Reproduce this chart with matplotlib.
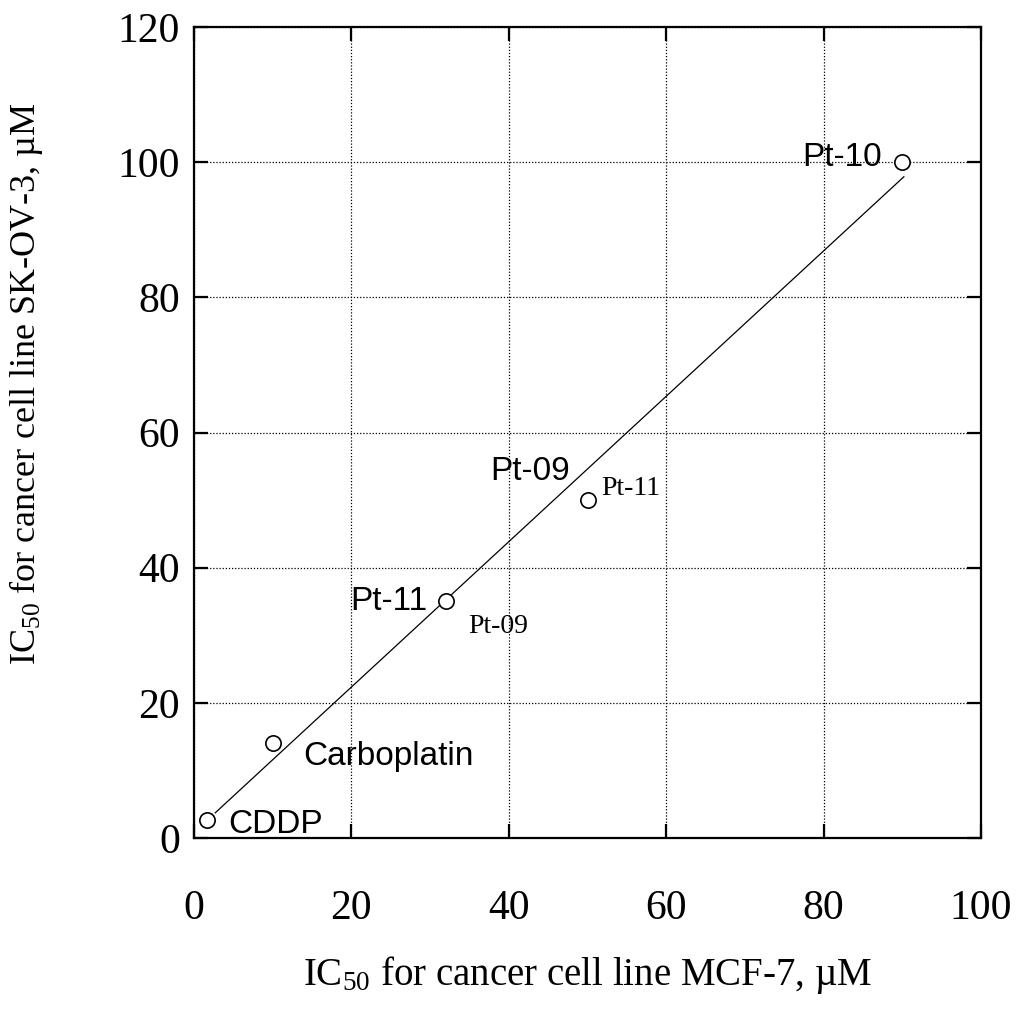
"""IC50 correlation: MCF-7 vs SK-OV-3 for platinum complexes."""

import numpy as np
import matplotlib
matplotlib.use("Agg")
import matplotlib.pyplot as plt

plt.rcParams["mathtext.fontset"] = "custom"
plt.rcParams["mathtext.rm"] = "Liberation Serif"
plt.rcParams["mathtext.it"] = "Liberation Serif:italic"

# --- data ---
compounds = ["CDDP", "Carboplatin", "Pt-11", "Pt-09", "Pt-10"]
ic50_mcf7 = [1.7, 10.0, 32.0, 50.0, 90.0]
ic50_skov3 = [2.7, 14.0, 35.0, 50.0, 100.0]

x_ticks = [0, 20, 40, 60, 80, 100]
y_ticks = [0, 20, 40, 60, 80, 100, 120]

W, H = 1017, 1016
fig = plt.figure(figsize=(W / 100, H / 100), dpi=100)
ax = fig.add_axes([194 / W, 1 - 838 / H, (981 - 194) / W, (838 - 27) / H])

# linear fit through the compounds
slope, icpt = np.polyfit(ic50_mcf7, ic50_skov3, 1)
fx = np.array([2.7, 90.2])
ax.plot(fx, slope * fx + icpt, color="black", lw=0.9)
ax.plot(ic50_mcf7, ic50_skov3, "o", mfc="white", mec="black", ms=11, mew=1.2, zorder=3)

# point labels (sans and serif, as in the original)
sans = dict(family="Liberation Sans", fontsize=24, va="baseline")
serif = dict(family="Liberation Serif", fontsize=20, va="baseline")
ax.text(4.3, 0.8, "CDDP", ha="left", **sans)
ax.text(13.9, 10.8, "Carboplatin", ha="left", **sans)
ax.text(19.9, 33.7, "Pt-11", ha="left", **sans)
ax.text(37.6, 53.0, "Pt-09", ha="left", **sans)
ax.text(87.4, 99.4, "Pt-10", ha="right", **sans)
ax.text(51.8, 50.7, "Pt-11", ha="left", **serif)
ax.text(34.8, 30.3, "Pt-09", ha="left", **serif)

ax.set_xlim(0, 100)
ax.set_ylim(0, 120)
ax.set_xticks(x_ticks)
ax.set_yticks(y_ticks)
ax.grid(True, color="black", ls=(0, (1, 1.5)), lw=0.9)
for s in ax.spines.values():
    s.set_linewidth(1.6)
ax.tick_params(direction="in", length=10, width=1.6, top=True, right=True,
               labelsize=30)
ax.tick_params(axis="x", pad=37)
ax.tick_params(axis="y", pad=10)
for lab in ax.get_xticklabels() + ax.get_yticklabels():
    lab.set_family("Liberation Serif")

fig.text(587 / W, 1 - 985 / H, "IC$_{50}$ for cancer cell line MCF-7, \u00b5M",
         ha="center", va="baseline", family="Liberation Serif", fontsize=28)
fig.text(26 / W, 1 - 384 / H, "IC$_{50}$ for cancer cell line SK-OV-3, \u00b5M",
         ha="center", va="center", rotation=90, family="Liberation Serif",
         fontsize=26)

fig.savefig("out.png", dpi=100)
plt.close(fig)
